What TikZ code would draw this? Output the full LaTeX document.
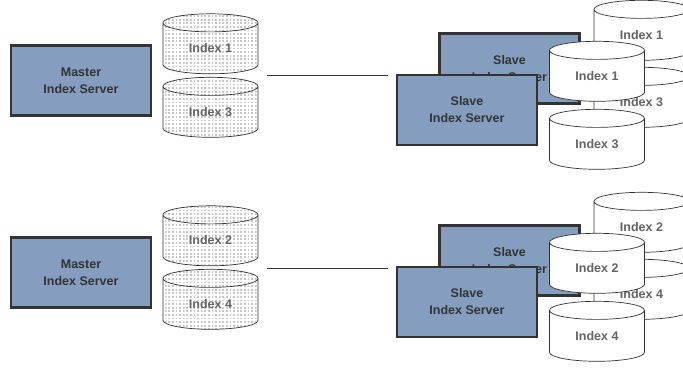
\documentclass[tikz,border=0pt]{standalone}
\usepackage{fontspec}
\setmainfont{Liberation Sans}
\usetikzlibrary{shapes.geometric,patterns}
\definecolor{serverblue}{RGB}{133,158,191}
\definecolor{serverline}{RGB}{51,51,51}
\definecolor{indexgray}{RGB}{100,100,100}
\pgfdeclarepatternformonly{indexdots}{\pgfqpoint{-1pt}{-1pt}}{\pgfqpoint{1pt}{1pt}}{\pgfqpoint{3.6pt}{3.6pt}}{%
	\pgfpathrectangle{\pgfqpoint{-0.9pt}{-0.9pt}}{\pgfqpoint{1.8pt}{1.8pt}}
	\pgfusepath{fill}
	\pgfpathrectangle{\pgfqpoint{0.9pt}{0.9pt}}{\pgfqpoint{1.8pt}{1.8pt}}
	\pgfusepath{fill}
}
\tikzset{
	server/.style={draw=serverline,line width=2.2pt,fill=serverblue,minimum width=140pt,minimum height=70pt,
		align=center,font=\bfseries\fontsize{12.5}{17}\selectfont,text=serverline},
	indexdb/.style={draw=serverline,line width=.7pt,cylinder,shape border rotate=90,aspect=.42,
		minimum width=95pt,minimum height=60pt,font=\bfseries\fontsize{12.5}{15}\selectfont,text=indexgray,inner sep=0pt},
	plain/.style={indexdb,fill=white},
	dotted/.style={indexdb,pattern=indexdots,pattern color=black!22},
}
\begin{document}
\begin{tikzpicture}[x=1pt,y=-1pt]
	\useasboundingbox (0,0) rectangle (683,369);
	\foreach \n/\y/\a/\b in {u/0/1/3,l/192/2/4} {
	\begin{scope}[yshift=-\y pt]
	\node[server] (master\n) at (81,80.5) {Master\\Index Server};
	\node[dotted] (dba\n) at (210.5,48.5) {Index \a};
	\node[dotted] (dbb\n) at (210.5,112) {Index \b};
	\coordinate (linea\n) at (267,76);
	\coordinate (lineb\n) at (388,76);
	\draw[line width=1pt,serverline] (linea\n)--(lineb\n);
	\node[server] (backslave\n) at (509.5,68.5) {Slave\\Index Server};
	\node[plain] (backdba\n) at (641.5,35) {Index \a};
	\node[plain] (backdbb\n) at (641.5,102) {Index \b};
	\node[server] (slave\n) at (467,110) {Slave\\Index Server};
	\node[plain] (dbc\n) at (597,76) {Index \a};
	\node[plain] (dbd\n) at (597,144) {Index \b};
	\end{scope}
	}
\end{tikzpicture}
\end{document}
